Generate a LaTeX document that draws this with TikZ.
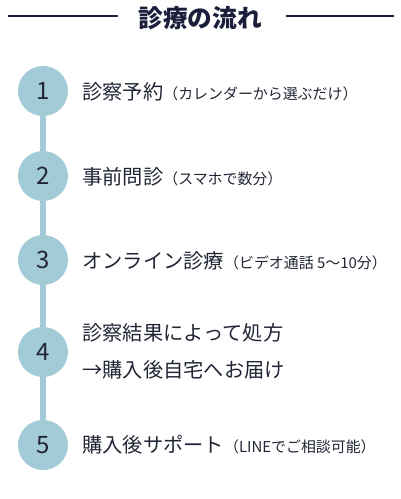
\documentclass[tikz,border=0pt]{standalone}
\usepackage{fontspec}
\setmainfont{Noto Sans CJK JP}
\usepackage{tikz}
\usetikzlibrary{positioning,backgrounds}
\definecolor{StepColor}{RGB}{163,203,215}
\definecolor{InkColor}{RGB}{33,38,52}
\definecolor{NavyColor}{RGB}{27,31,60}

\tikzset{
  stepdot/.style={circle, fill=StepColor, minimum size=37.5pt, inner sep=0pt,
    text=InkColor, font=\fontsize{18}{20}\selectfont},
  steptext/.style={anchor=west, inner sep=0pt, text=InkColor,
    font=\fontsize{15.2}{18}\selectfont},
  flowline/.style={StepColor, line width=4.5pt}
}
\newcommand{\paren}[1]{{\fontsize{11.2}{12}\selectfont #1}}

\begin{document}
\begin{tikzpicture}[x=0.75pt, y=-0.75pt]
        \useasboundingbox (0,0) rectangle (400,499);
        % title with rules either side
        \node[text=NavyColor, font=\fontsize{18.5}{20}\selectfont\bfseries] (title) at (200,18) {診療の流れ};
        \coordinate (ruleLa) at (8,16);
        \coordinate (ruleLb) at (118,16);
        \coordinate (ruleRa) at (286,16);
        \coordinate (ruleRb) at (394,16);
        \draw[NavyColor, line width=1.6pt] (ruleLa) -- (ruleLb);
        \draw[NavyColor, line width=1.6pt] (ruleRa) -- (ruleRb);
        % steps
        \node[stepdot] (step1) at (43,91) {1};
        \node[stepdot] (step2) at (43,176) {2};
        \node[stepdot] (step3) at (43,260) {3};
        \node[stepdot] (step4) at (43,352) {4};
        \node[stepdot] (step5) at (43,445) {5};
        \begin{scope}[on background layer]
          \foreach \a/\b in {step1/step2, step2/step3, step3/step4, step4/step5}
            \draw[flowline] (\a) -- (\b);
        \end{scope}
        \node[steptext] (txt1) at (82,92) {診察予約\paren{（カレンダーから選ぶだけ）}};
        \node[steptext] (txt2) at (82,177) {事前問診\paren{（スマホで数分）}};
        \node[steptext] (txt3) at (82,261) {オンライン診療\paren{（ビデオ通話 5〜10分）}};
        \node[steptext, align=left, font=\fontsize{15.2}{27.75}\selectfont] (txt4) at (82,351) {診察結果によって処方\\→購入後自宅へお届け};
        \node[steptext] (txt5) at (82,445) {購入後サポート\paren{（LINEでご相談可能）}};
      \end{tikzpicture}
\end{document}
